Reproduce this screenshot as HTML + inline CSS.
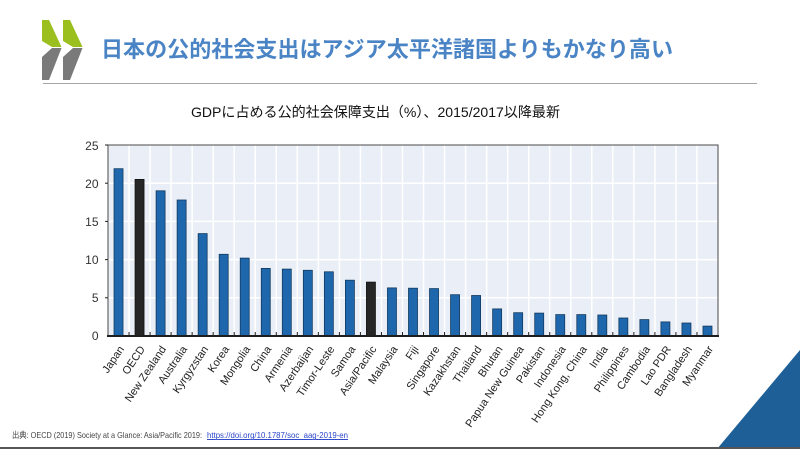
<!DOCTYPE html>
<html><head><meta charset="utf-8"><style>
html,body{margin:0;padding:0;background:#fff;}
svg{display:block;}
</style></head><body>
<svg width="800" height="449" viewBox="0 0 800 449" xmlns="http://www.w3.org/2000/svg">
<rect x="0" y="0" width="800" height="449" fill="#fff"/>
<!-- logo -->
<polygon points="42,20 49,20 61.5,47 52,47 42,41" fill="#9bbf1e"/>
<polygon points="52,48 61.5,48 49,80 42,80 42,57" fill="#7a7a7a"/>
<polygon points="63,20 70,20 82.5,47 73,47 63,41" fill="#9bbf1e"/>
<polygon points="73,48 82.5,48 70,80 63,80 63,57" fill="#7a7a7a"/>
<!-- title -->
<text x="101" y="57" font-family="'Liberation Sans','Noto Sans CJK JP',sans-serif" font-size="22" font-weight="bold" fill="#4a84c5" textLength="572" lengthAdjust="spacingAndGlyphs">日本の公的社会支出はアジア太平洋諸国よりもかなり高い</text>
<rect x="43" y="83" width="714" height="1" fill="#a6a6a6"/>
<!-- subtitle -->
<text x="191" y="117" font-family="'Liberation Sans','Noto Sans CJK JP',sans-serif" font-size="14" fill="#111" textLength="369" lengthAdjust="spacingAndGlyphs">GDPに占める公的社会保障支出（%）、2015/2017以降最新</text>
<!-- plot background -->
<rect x="108" y="145" width="610" height="191" fill="#eaeff7"/>
<g stroke="#ffffff" stroke-width="1.5">
<line x1="108" y1="297.8" x2="718" y2="297.8"/>
<line x1="108" y1="259.6" x2="718" y2="259.6"/>
<line x1="108" y1="221.4" x2="718" y2="221.4"/>
<line x1="108" y1="183.2" x2="718" y2="183.2"/>
<line x1="129.03" y1="145" x2="129.03" y2="336"/><line x1="150.07" y1="145" x2="150.07" y2="336"/><line x1="171.10" y1="145" x2="171.10" y2="336"/><line x1="192.14" y1="145" x2="192.14" y2="336"/><line x1="213.17" y1="145" x2="213.17" y2="336"/><line x1="234.21" y1="145" x2="234.21" y2="336"/><line x1="255.24" y1="145" x2="255.24" y2="336"/><line x1="276.28" y1="145" x2="276.28" y2="336"/><line x1="297.31" y1="145" x2="297.31" y2="336"/><line x1="318.34" y1="145" x2="318.34" y2="336"/><line x1="339.38" y1="145" x2="339.38" y2="336"/><line x1="360.41" y1="145" x2="360.41" y2="336"/><line x1="381.45" y1="145" x2="381.45" y2="336"/><line x1="402.48" y1="145" x2="402.48" y2="336"/><line x1="423.52" y1="145" x2="423.52" y2="336"/><line x1="444.55" y1="145" x2="444.55" y2="336"/><line x1="465.59" y1="145" x2="465.59" y2="336"/><line x1="486.62" y1="145" x2="486.62" y2="336"/><line x1="507.66" y1="145" x2="507.66" y2="336"/><line x1="528.69" y1="145" x2="528.69" y2="336"/><line x1="549.72" y1="145" x2="549.72" y2="336"/><line x1="570.76" y1="145" x2="570.76" y2="336"/><line x1="591.79" y1="145" x2="591.79" y2="336"/><line x1="612.83" y1="145" x2="612.83" y2="336"/><line x1="633.86" y1="145" x2="633.86" y2="336"/><line x1="654.90" y1="145" x2="654.90" y2="336"/><line x1="675.93" y1="145" x2="675.93" y2="336"/><line x1="696.97" y1="145" x2="696.97" y2="336"/>
</g>
<!-- bars -->
<g fill="#1e67ad" stroke="#123a5e" stroke-width="0.8">
<rect x="114.02" y="168.7" width="9" height="167.3"/>
<rect x="156.09" y="190.8" width="9" height="145.2"/>
<rect x="177.12" y="200.0" width="9" height="136.0"/>
<rect x="198.16" y="233.6" width="9" height="102.4"/>
<rect x="219.19" y="254.3" width="9" height="81.7"/>
<rect x="240.22" y="258.1" width="9" height="77.9"/>
<rect x="261.26" y="268.4" width="9" height="67.6"/>
<rect x="282.29" y="269.1" width="9" height="66.9"/>
<rect x="303.33" y="270.3" width="9" height="65.7"/>
<rect x="324.36" y="271.8" width="9" height="64.2"/>
<rect x="345.40" y="280.2" width="9" height="55.8"/>
<rect x="387.47" y="287.9" width="9" height="48.1"/>
<rect x="408.50" y="288.2" width="9" height="47.8"/>
<rect x="429.53" y="288.6" width="9" height="47.4"/>
<rect x="450.57" y="294.7" width="9" height="41.3"/>
<rect x="471.60" y="295.5" width="9" height="40.5"/>
<rect x="492.64" y="308.9" width="9" height="27.1"/>
<rect x="513.67" y="312.7" width="9" height="23.3"/>
<rect x="534.71" y="313.1" width="9" height="22.9"/>
<rect x="555.74" y="314.6" width="9" height="21.4"/>
<rect x="576.78" y="314.6" width="9" height="21.4"/>
<rect x="597.81" y="315.0" width="9" height="21.0"/>
<rect x="618.84" y="318.0" width="9" height="18.0"/>
<rect x="639.88" y="319.6" width="9" height="16.4"/>
<rect x="660.91" y="321.9" width="9" height="14.1"/>
<rect x="681.95" y="323.0" width="9" height="13.0"/>
<rect x="702.98" y="326.1" width="9" height="9.9"/>
</g>
<g fill="#262626" stroke="#111" stroke-width="0.8">
<rect x="135.05" y="179.4" width="9" height="156.6"/>
<rect x="366.43" y="282.1" width="9" height="53.9"/>
</g>
<!-- frame -->
<rect x="108" y="145" width="610" height="191" fill="none" stroke="#4a4a4a" stroke-width="1"/>
<line x1="107" y1="336" x2="719" y2="336" stroke="#1e1e1e" stroke-width="2"/>
<g stroke="#1e1e1e" stroke-width="1">
<line x1="129.03" y1="332" x2="129.03" y2="336"/><line x1="150.07" y1="332" x2="150.07" y2="336"/><line x1="171.10" y1="332" x2="171.10" y2="336"/><line x1="192.14" y1="332" x2="192.14" y2="336"/><line x1="213.17" y1="332" x2="213.17" y2="336"/><line x1="234.21" y1="332" x2="234.21" y2="336"/><line x1="255.24" y1="332" x2="255.24" y2="336"/><line x1="276.28" y1="332" x2="276.28" y2="336"/><line x1="297.31" y1="332" x2="297.31" y2="336"/><line x1="318.34" y1="332" x2="318.34" y2="336"/><line x1="339.38" y1="332" x2="339.38" y2="336"/><line x1="360.41" y1="332" x2="360.41" y2="336"/><line x1="381.45" y1="332" x2="381.45" y2="336"/><line x1="402.48" y1="332" x2="402.48" y2="336"/><line x1="423.52" y1="332" x2="423.52" y2="336"/><line x1="444.55" y1="332" x2="444.55" y2="336"/><line x1="465.59" y1="332" x2="465.59" y2="336"/><line x1="486.62" y1="332" x2="486.62" y2="336"/><line x1="507.66" y1="332" x2="507.66" y2="336"/><line x1="528.69" y1="332" x2="528.69" y2="336"/><line x1="549.72" y1="332" x2="549.72" y2="336"/><line x1="570.76" y1="332" x2="570.76" y2="336"/><line x1="591.79" y1="332" x2="591.79" y2="336"/><line x1="612.83" y1="332" x2="612.83" y2="336"/><line x1="633.86" y1="332" x2="633.86" y2="336"/><line x1="654.90" y1="332" x2="654.90" y2="336"/><line x1="675.93" y1="332" x2="675.93" y2="336"/><line x1="696.97" y1="332" x2="696.97" y2="336"/>
<line x1="105" y1="297.8" x2="108" y2="297.8"/><line x1="105" y1="259.6" x2="108" y2="259.6"/><line x1="105" y1="221.4" x2="108" y2="221.4"/><line x1="105" y1="183.2" x2="108" y2="183.2"/><line x1="105" y1="145" x2="108" y2="145"/>
</g>
<!-- y labels -->
<g font-family="'Liberation Sans',sans-serif" font-size="12" fill="#333" text-anchor="end">
<text x="98.5" y="340">0</text>
<text x="98.5" y="302">5</text>
<text x="98.5" y="264">10</text>
<text x="98.5" y="226">15</text>
<text x="98.5" y="188">20</text>
<text x="98.5" y="150">25</text>
</g>
<!-- x labels -->
<g font-family="'Liberation Sans',sans-serif" font-size="11" fill="#222" text-anchor="end">
<text transform="translate(124.5,349) rotate(-56)">Japan</text>
<text transform="translate(145.5,349) rotate(-56)">OECD</text>
<text transform="translate(166.6,349) rotate(-56)">New Zealand</text>
<text transform="translate(187.6,349) rotate(-56)">Australia</text>
<text transform="translate(208.7,349) rotate(-56)">Kyrgyzstan</text>
<text transform="translate(229.7,349) rotate(-56)">Korea</text>
<text transform="translate(250.7,349) rotate(-56)">Mongolia</text>
<text transform="translate(271.8,349) rotate(-56)">China</text>
<text transform="translate(292.8,349) rotate(-56)">Armenia</text>
<text transform="translate(313.8,349) rotate(-56)">Azerbaijan</text>
<text transform="translate(334.9,349) rotate(-56)">Timor-Leste</text>
<text transform="translate(355.9,349) rotate(-56)">Samoa</text>
<text transform="translate(376.9,349) rotate(-56)">Asia/Pacific</text>
<text transform="translate(398.0,349) rotate(-56)">Malaysia</text>
<text transform="translate(419.0,349) rotate(-56)">Fiji</text>
<text transform="translate(440.0,349) rotate(-56)">Singapore</text>
<text transform="translate(461.1,349) rotate(-56)">Kazakhstan</text>
<text transform="translate(482.1,349) rotate(-56)">Thailand</text>
<text transform="translate(503.1,349) rotate(-56)">Bhutan</text>
<text transform="translate(524.2,349) rotate(-56)">Papua New Guinea</text>
<text transform="translate(545.2,349) rotate(-56)">Pakistan</text>
<text transform="translate(566.2,349) rotate(-56)">Indonesia</text>
<text transform="translate(587.3,349) rotate(-56)">Hong Kong, China</text>
<text transform="translate(608.3,349) rotate(-56)">India</text>
<text transform="translate(629.3,349) rotate(-56)">Philippines</text>
<text transform="translate(650.4,349) rotate(-56)">Cambodia</text>
<text transform="translate(671.4,349) rotate(-56)">Lao PDR</text>
<text transform="translate(692.4,349) rotate(-56)">Bangladesh</text>
<text transform="translate(713.5,349) rotate(-56)">Myanmar</text>
</g>
<!-- footer -->
<text x="12" y="438" font-family="'Liberation Sans','Noto Sans CJK JP',sans-serif" font-size="8.5" fill="#444" textLength="190" lengthAdjust="spacingAndGlyphs">出典: OECD (2019) Society at a Glance: Asia/Pacific 2019:</text>
<text x="207" y="438" font-family="'Liberation Sans',sans-serif" font-size="8.5" fill="#2a45c8" text-decoration="underline" textLength="141" lengthAdjust="spacingAndGlyphs">https://doi.org/10.1787/soc_aag-2019-en</text>
<line x1="207" y1="439.5" x2="348" y2="439.5" stroke="#2a45c8" stroke-width="0.7"/>
<!-- corner triangle -->
<polygon points="717,449 800,350 800,449" fill="#1d5f96"/>
<rect x="0" y="447" width="800" height="2" fill="#555"/>
</svg>
</body></html>
